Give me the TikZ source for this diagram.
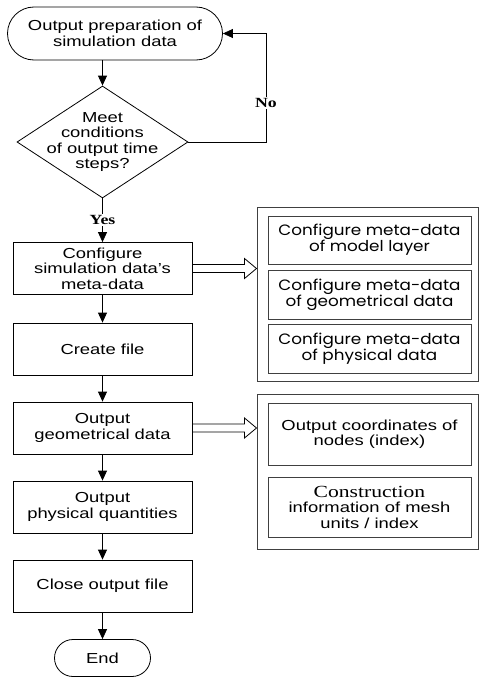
\documentclass[tikz,border=0pt]{standalone}
\usepackage{fontspec}
\setmainfont{Liberation Sans}[FakeStretch=1.27]
\newfontfamily\comicfont{Poppins}[FakeStretch=1.12]
\newfontfamily\romanfont{Liberation Serif}[FakeStretch=1.27]
\usetikzlibrary{arrows.meta,calc,shapes.geometric,shapes.misc}
\tikzset{
	stepbox/.style={draw, line width=0.8pt, minimum width=179pt, minimum height=52pt, inner sep=0pt, align=center, font=\fontsize{14.5}{15.5}\selectfont},
	termbox/.style={draw, rounded rectangle, line width=0.8pt, inner sep=0pt, align=center, font=\fontsize{14.5}{15.5}\selectfont},
	decbox/.style={draw, diamond, aspect=1.5, line width=0.8pt, minimum width=171pt, minimum height=112pt, inner sep=-20pt, align=center, font=\fontsize{14.5}{15.5}\selectfont},
	groupbox/.style={draw=black!75, line width=1pt, minimum width=221pt, inner sep=0pt},
	subbox/.style={draw=black!75, line width=1pt, minimum width=203pt, inner sep=0pt, align=center, font=\fontsize{14.5}{15.5}\selectfont},
	comictext/.style={font=\comicfont\fontsize{15}{16}\selectfont},
	flow/.style={-{Triangle[width=9pt,length=10pt]}, line width=0.8pt},
	answer/.style={fill=white, inner sep=1.5pt, font=\romanfont\bfseries\fontsize{14}{14}\selectfont},
}
\def\fatarrow(#1)(#2){\draw[line width=0.8pt] ($(#1)+(0,-4)$) -- ($(#2)+(-12,-4)$) -- ($(#2)+(-12,-10)$) -- (#2) -- ($(#2)+(-12,10)$) -- ($(#2)+(-12,4)$) -- ($(#1)+(0,4)$);}

\begin{document}
\begin{tikzpicture}[x=1pt, y=-1pt]
			%%%%% START %%%%%
			\useasboundingbox (0, 0) rectangle (479, 677);
			
			\node[termbox, minimum width=215pt, minimum height=53pt] (start) at (115, 33.5) {Output preparation of\\simulation data};
			\node[decbox] (cond) at (102.5, 142) {Meet\\conditions\\of output time\\steps?};
			
			\node[stepbox] (meta) at (102.5, 268.5) {Configure\\simulation data's\\meta-data};
			\node[stepbox] (create) at (102.5, 349) {Create file};
			\node[stepbox] (geom) at (102.5, 428) {Output\\geometrical data};
			\node[stepbox] (phys) at (102.5, 507) {Output\\physical quantities};
			\node[stepbox] (close) at (102.5, 586) {Close output file};
			\node[termbox, minimum width=96pt, minimum height=37pt] (end) at (102.5, 658) {End};
			
			%%%%% meta-data group
			\node[groupbox, minimum height=174pt] (metagrp) at (367.5, 294) {};
			\node[subbox, comictext, minimum height=48pt] (model) at (369.5, 240) {Configure meta-data\\of model layer};
			\node[subbox, comictext, minimum height=49pt] (geodat) at (369.5, 294.5) {Configure meta-data\\of geometrical data};
			\node[subbox, comictext, minimum height=49pt] (physdat) at (369.5, 348.5) {Configure meta-data\\of physical data};
			
			%%%%% geometry group
			\node[groupbox, minimum height=155pt] (geomgrp) at (367.5, 471.5) {};
			\node[subbox, minimum height=62pt] (coords) at (369.5, 434) {Output coordinates of\\nodes (index)};
			\node[subbox, minimum height=60pt] (mesh) at (369.5, 507) {{\romanfont\fontsize{17}{17}\selectfont Construction}\\information of mesh\\units / index};
			
			%%%%% flow
			\coordinate (nocorner) at (266, 33.5);
			\draw[flow] (start.south -| cond.north) -- (cond.north);
			\draw[flow] (cond.east) -| node[answer, pos=0.68] {No} (nocorner) -- (start.east);
			\draw[flow] (cond.south) -- node[answer] {Yes} (meta.north);
			\draw[flow] (meta) -- (create);
			\draw[flow] (create) -- (geom);
			\draw[flow] (geom) -- (phys);
			\draw[flow] (phys) -- (close);
			\draw[flow] (close) -- (end);
			
			\coordinate (metatip) at (meta.east -| metagrp.west);
			\fatarrow(meta.east)(metatip)
			\coordinate (geomtip) at (geom.east -| geomgrp.west);
			\fatarrow(geom.east)(geomtip)
			
			%%%%% END %%%%%
\end{tikzpicture}
\end{document}
